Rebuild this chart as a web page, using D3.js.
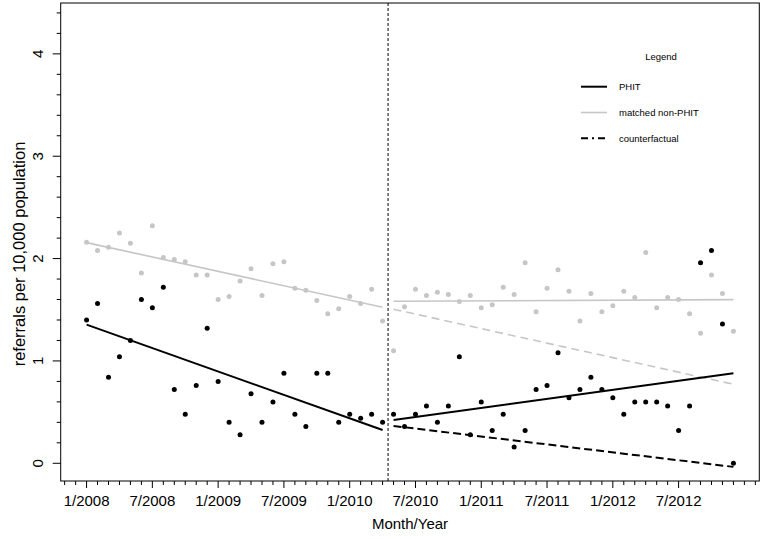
<!DOCTYPE html>
<html>
<head>
    <meta charset="utf-8">
    <style type="text/css">
        body { margin: 0; background: white; }
        text { font-family: "Liberation Sans", Arial, Helvetica, sans-serif; fill: black; }
        .tick-label { font-size: 15px; }
        .axis-title { font-size: 15px; }
        .y-title { font-size: 16.5px; }
        .legend text { font-size: 9.5px; }
    </style>
</head>
<body>
<svg id="graph" width="764" height="539"></svg>
<script src="https://d3js.org/d3.v7.min.js"></script>
<script type="text/javascript">
// months counted from 1/2008 (0) to 12/2012 (59)
var phit = [1.40, 1.56, 0.84, 1.04, 1.20, 1.60, 1.52, 1.72, 0.72, 0.48,
    0.76, 1.32, 0.80, 0.40, 0.28, 0.68, 0.40, 0.60, 0.88, 0.48,
    0.36, 0.88, 0.88, 0.40, 0.48, 0.44, 0.48, 0.40,
    0.48, 0.36, 0.48, 0.56, 0.40, 0.56, 1.04, 0.28, 0.60, 0.32,
    0.48, 0.16, 0.32, 0.72, 0.76, 1.08,
    0.64, 0.72, 0.84, 0.72, 0.64, 0.48, 0.60, 0.60, 0.60, 0.56,
    0.32, 0.56, 1.96, 2.08, 1.36, 0.00];

var nonPhit = [2.16, 2.08, 2.11, 2.25, 2.15, 1.86, 2.32, 2.01, 1.99, 1.97,
    1.84, 1.84, 1.60, 1.63, 1.78, 1.90, 1.64, 1.95, 1.97, 1.71,
    1.69, 1.59, 1.46, 1.51, 1.63, 1.56, 1.70, 1.39,
    1.10, 1.53, 1.70, 1.64, 1.67, 1.65, 1.58, 1.64, 1.52, 1.55,
    1.72, 1.65, 1.96, 1.48, 1.71, 1.89,
    1.68, 1.39, 1.66, 1.48, 1.54, 1.68, 1.62, 2.06, 1.52, 1.62,
    1.60, 1.46, 1.27, 1.84, 1.66, 1.29];

// fitted segments: [month start, value start, month end, value end]
var phitFit = [[0, 1.355, 27, 0.325], [28, 0.423, 59, 0.879]];
var nonPhitFit = [[0, 2.156, 27, 1.524], [28, 1.583, 59, 1.599]];
var phitCounter = [[28, 0.365, 59, -0.035]];
var nonPhitCounter = [[28, 1.505, 59, 0.772]];

var interruption = 27.5;
var xLabels = ["1/2008", "7/2008", "1/2009", "7/2009", "1/2010",
    "7/2010", "1/2011", "7/2011", "1/2012", "7/2012"];
var yTicks = [0, 1, 2, 3, 4];

var grey = "#c6c6c6";
var svg = d3.select("#graph");

var x = d3.scaleLinear().domain([-2.36, 61.36]).range([60.7, 759.3]);
var y = d3.scaleLinear().domain([-0.173, 4.497]).range([481, 3]);

// box
svg.append("rect")
    .attr("x", x.range()[0]).attr("y", y.range()[1])
    .attr("width", x.range()[1] - x.range()[0])
    .attr("height", y.range()[0] - y.range()[1])
    .attr("fill", "none").attr("stroke", "black").attr("stroke-width", 1);

// x axis: monthly minor ticks, labelled every 6 months
var months = d3.range(-2, 62);
var xAxis = svg.append("g").attr("transform", "translate(0," + y.range()[0] + ")");
xAxis.selectAll("line")
    .data(months).enter().append("line")
    .attr("x1", function(d) { return x(d); })
    .attr("x2", function(d) { return x(d); })
    .attr("y1", 0)
    .attr("y2", function(d) { return d >= 0 && d % 6 == 0 && d < 60 ? 7 : 4; })
    .attr("stroke", "black");
xAxis.selectAll("text")
    .data(xLabels).enter().append("text")
    .attr("class", "tick-label")
    .attr("x", function(d, i) { return x(i * 6); })
    .attr("y", 25)
    .attr("text-anchor", "middle")
    .text(function(d) { return d; });

// y axis: ticks every 0.2, labels on integers
var yAxis = svg.append("g").attr("transform", "translate(" + x.range()[0] + ",0)");
yAxis.selectAll("line")
    .data(d3.range(0, 4.5, 0.2)).enter().append("line")
    .attr("x1", function(d) { return Math.abs(d - Math.round(d)) < 0.01 ? -8 : -4; })
    .attr("x2", 0)
    .attr("y1", function(d) { return y(d); })
    .attr("y2", function(d) { return y(d); })
    .attr("stroke", "black");
yAxis.selectAll("text")
    .data(yTicks).enter().append("text")
    .attr("class", "tick-label")
    .attr("transform", function(d) { return "translate(-23," + y(d) + ") rotate(-90)"; })
    .attr("text-anchor", "middle")
    .attr("dy", "0.35em")
    .text(function(d) { return d; });

svg.append("text").attr("class", "axis-title")
    .attr("x", 410).attr("y", 529)
    .attr("text-anchor", "middle")
    .text("Month/Year");
svg.append("text").attr("class", "y-title")
    .attr("transform", "translate(25,254) rotate(-90)")
    .attr("text-anchor", "middle")
    .text("referrals per 10,000 population");

// interruption line
svg.append("line")
    .attr("x1", x(interruption)).attr("x2", x(interruption))
    .attr("y1", y.range()[1]).attr("y2", y.range()[0])
    .attr("stroke", "black").attr("stroke-width", 1)
    .attr("stroke-dasharray", "3,2");

function drawPoints(values, colour) {
    svg.append("g").selectAll("circle")
        .data(values).enter().append("circle")
        .attr("cx", function(d, i) { return x(i); })
        .attr("cy", function(d) { return y(d); })
        .attr("r", 2.5)
        .attr("fill", colour);
}

function drawSegments(segs, colour, width, dash) {
    svg.append("g").selectAll("line")
        .data(segs).enter().append("line")
        .attr("x1", function(d) { return x(d[0]); })
        .attr("y1", function(d) { return y(d[1]); })
        .attr("x2", function(d) { return x(d[2]); })
        .attr("y2", function(d) { return y(d[3]); })
        .attr("stroke", colour)
        .attr("stroke-width", width)
        .attr("stroke-dasharray", dash);
}

drawPoints(nonPhit, grey);
drawSegments(nonPhitFit, grey, 1.6, null);
drawSegments(nonPhitCounter, grey, 1.6, "8,5");
drawPoints(phit, "black");
drawSegments(phitFit, "black", 2, null);
drawSegments(phitCounter, "black", 2, "8,4");

// legend
var legendItems = [
    {label: "PHIT", colour: "black", width: 2, dash: null},
    {label: "matched non-PHIT", colour: grey, width: 1.6, dash: null},
    {label: "counterfactual", colour: "black", width: 2, dash: "7,4,2,4"}
];
var legend = svg.append("g").attr("class", "legend");
legend.append("text")
    .attr("x", 661).attr("y", 60)
    .attr("text-anchor", "middle")
    .text("Legend");
var item = legend.selectAll("g.item")
    .data(legendItems).enter().append("g").attr("class", "item")
    .attr("transform", function(d, i) { return "translate(0," + (86.7 + i * 25.8) + ")"; });
item.append("line")
    .attr("x1", 581).attr("x2", 607)
    .attr("stroke", function(d) { return d.colour; })
    .attr("stroke-width", function(d) { return d.width; })
    .attr("stroke-dasharray", function(d) { return d.dash; });
item.append("text")
    .attr("x", 619).attr("y", 3.5)
    .text(function(d) { return d.label; });
</script>
</body>
</html>
